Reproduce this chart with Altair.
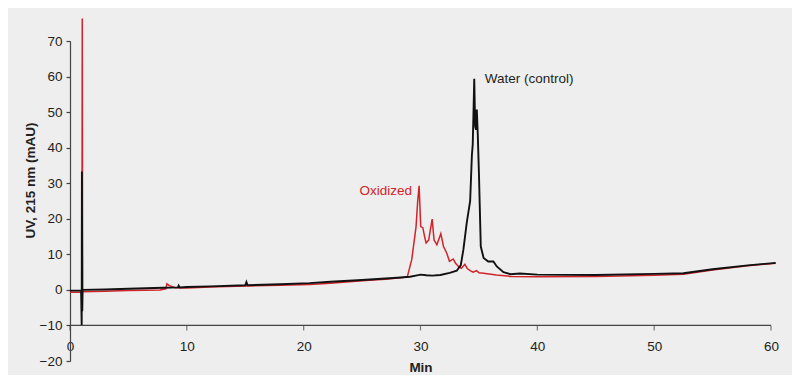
import altair as alt
import pandas as pd

# ---- data ----
water_t = [0.0, 0.5, 0.95, 1.0, 1.02, 1.05, 1.08, 3.0, 5.0, 8.0, 9.25, 9.3, 9.4, 10.0, 12.0,
           15.0, 15.1, 15.2, 18.0, 20.5, 22.3, 25.0, 27.0, 28.0, 29.1, 29.7, 30.0, 30.5,
           31.0, 31.7, 32.5, 33.1, 33.45, 33.67, 33.96, 34.25, 34.4, 34.47, 34.55, 34.6,
           34.68, 34.75, 34.82, 34.9, 35.0, 35.16, 35.4, 35.8, 36.24, 36.53, 37.1, 37.7,
           38.5, 40.0, 45.0, 50.0, 52.5, 55.0, 58.0, 60.4]
water_v = [-0.2, -0.2, -0.2, -9.9, 33.3, -6.0, 0.0, 0.1, 0.3, 0.6, 0.7, 1.2, 0.7, 0.8, 1.0,
           1.3, 2.2, 1.3, 1.6, 1.9, 2.3, 2.8, 3.2, 3.4, 3.7, 4.1, 4.3, 4.1,
           4.0, 4.2, 4.8, 5.4, 7.0, 11.3, 18.9, 25.0, 38.0, 40.8, 52.0, 59.4,
           46.0, 45.0, 50.7, 44.0, 33.0, 12.2, 9.0, 8.0, 8.0, 6.6, 5.0, 4.4,
           4.6, 4.3, 4.2, 4.5, 4.7, 5.8, 6.9, 7.6]

oxid_t = [0.0, 0.95, 1.02, 1.05, 1.08, 3.0, 5.0, 7.7, 8.2, 8.3, 8.5, 9.0, 10.0, 12.0, 15.0,
          18.0, 20.5, 22.3, 25.0, 27.0, 28.5, 28.88, 29.25, 29.62, 29.76, 29.88, 30.02,
          30.2, 30.35, 30.48, 30.7, 30.85, 31.0, 31.16, 31.4, 31.6, 31.74, 31.97, 32.25,
          32.48, 32.8, 33.0, 33.25, 33.5, 33.8, 34.0, 34.25, 34.5, 34.8, 35.0, 35.4, 36.5,
          37.7, 40.0, 45.0, 50.0, 52.5, 55.0, 58.0, 60.4]
oxid_v = [-0.65, -0.6, -1.0, 76.3, -0.5, -0.4, -0.2, 0.0, 0.3, 1.7, 1.2, 0.6, 0.5, 0.8, 1.1,
          1.3, 1.5, 1.9, 2.6, 3.0, 3.5, 3.8, 8.5, 17.8, 25.0, 29.3, 17.8,
          17.5, 15.0, 13.2, 14.0, 17.0, 19.9, 14.0, 12.7, 14.5, 15.8, 12.2, 10.3,
          8.0, 8.7, 7.5, 6.6, 6.1, 7.2, 6.0, 5.4, 5.0, 5.4, 4.8, 4.7, 4.2,
          3.8, 3.7, 3.8, 4.1, 4.4, 5.6, 6.8, 7.5]

label_text = ["Water (control)", "Oxidized"]
label_x = [35.5, 24.77]
label_y = [59.3, 27.7]
label_color = ["#231f20", "#d2232a"]

y_ticks = [-20, -10, 0, 10, 20, 30, 40, 50, 60, 70]
x_ticks = [0, 10, 20, 30, 40, 50, 60]
x_axis_at = [-10] * len(x_ticks)  # time axis crosses the y axis at -10 mAU

FONT = "Liberation Sans"
AXIS_COLOR = "#444444"

water = pd.DataFrame({"t": water_t, "v": water_v})
oxid = pd.DataFrame({"t": oxid_t, "v": oxid_v})
labels = pd.DataFrame({"text": label_text, "x": label_x, "y": label_y, "c": label_color})
xt = pd.DataFrame({"t": x_ticks, "v": x_axis_at})

H = 320
xscale = alt.Scale(domain=[0, 60], nice=False, zero=False)
yscale = alt.Scale(domain=[-20, 70], nice=False, zero=False)
axis_px = H * (70 - x_axis_at[0]) / 90.0

xaxis = alt.Axis(values=x_ticks, title="Min", offset=-(H - axis_px), grid=False,
                 domain=False, ticks=False, labelFlush=False,
                 labelOverlap=False,
                 labelFont=FONT, labelFontSize=13.5, labelColor="#231f20", labelPadding=14,
                 titleFont=FONT, titleFontSize=13.5, titleFontWeight="bold",
                 titleColor="#231f20", titlePadding=8)
yaxis = alt.Axis(values=y_ticks, title="UV, 215 nm (mAU)", grid=False,
                 domain=True, domainColor=AXIS_COLOR, domainWidth=1.2,
                 ticks=True, tickColor=AXIS_COLOR, tickSize=4, tickWidth=1.2,
                 labelOverlap=False, labelFlush=False,
                 labelFont=FONT, labelFontSize=13.5, labelColor="#231f20", labelPadding=4,
                 titleFont=FONT, titleFontSize=13.5, titleFontWeight="bold",
                 titleColor="#231f20", titleX=-40, titleY=139, titleBaseline="middle",
                 titleAngle=270)

X = alt.X("t:Q", scale=xscale, axis=xaxis)
Y = alt.Y("v:Q", scale=yscale, axis=yaxis)

# horizontal time axis line drawn through the tick table (from first to last tick)
x_line = alt.Chart(xt).mark_line(color=AXIS_COLOR, strokeWidth=1.2).encode(x=X, y=Y, order="t:Q")
x_tick_marks = alt.Chart(xt).mark_tick(color=AXIS_COLOR, thickness=1.2, size=5,
                                       orient="vertical", yOffset=2.5).encode(x=X, y=Y)

red = alt.Chart(oxid).mark_line(color="#d2232a", strokeWidth=1.5, clip=False).encode(
    x=X, y=Y, order="t:Q",
)
black = alt.Chart(water).mark_line(color="#111111", strokeWidth=1.9, clip=False).encode(
    x=X, y=Y, order="t:Q",
)
text = alt.Chart(labels).mark_text(align="left", baseline="middle", font=FONT, fontSize=13.5).encode(
    x=alt.X("x:Q", scale=xscale, axis=xaxis),
    y=alt.Y("y:Q", scale=yscale, axis=yaxis),
    text="text:N",
    color=alt.Color("c:N", scale=None),
)

chart = alt.layer(x_line, x_tick_marks, red, black, text).properties(
    width=701, height=H,
    autosize=alt.AutoSizeParams(type="none"),
    padding={"left": 62, "top": 33, "right": 21, "bottom": 14},
    background="#eeeeee",
).configure_view(stroke=None)

chart.save("out.html", embed_options={"renderer": "svg", "actions": False})
